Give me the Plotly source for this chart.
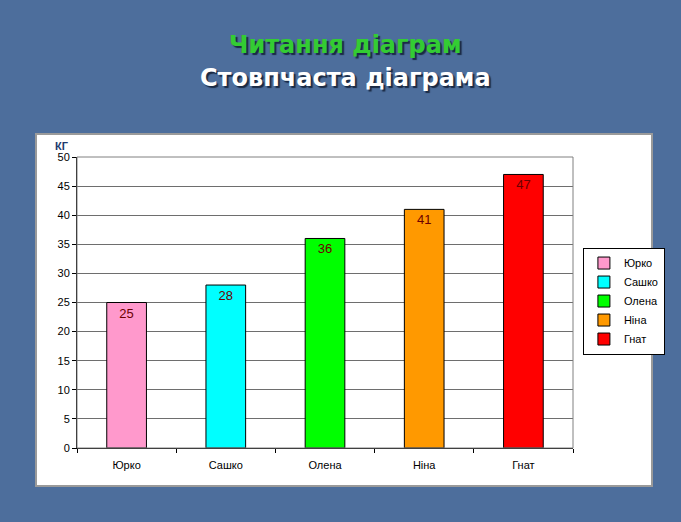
import plotly.graph_objects as go

names = ["Юрко", "Сашко", "Олена", "Ніна", "Гнат"]
values = [25, 28, 36, 41, 47]
colors = ["#ff99cc", "#00ffff", "#00ff00", "#ff9900", "#ff0000"]
y_ticks = [0, 5, 10, 15, 20, 25, 30, 35, 40, 45, 50]

fig = go.Figure()
for n, v, c in zip(names, values, colors):
    fig.add_trace(go.Bar(
        x=[n], y=[v], name=n, width=0.4,
        marker=dict(color=c, line=dict(color="black", width=1)),
        text=[str(v)], textposition="inside", insidetextanchor="end",
        textfont=dict(family="Arial", size=13, color="#6b0000"),
        textangle=0,
    ))

fig.update_layout(
    width=681, height=522,
    paper_bgcolor="#4d6e9c",
    plot_bgcolor="#c0c0c0",
    barmode="overlay",
    margin=dict(l=77, r=108, t=157, b=74),
    font=dict(family="Arial", size=11, color="black"),
    legend=dict(
        x=1.02, xanchor="left", y=0.505, yanchor="middle",
        bgcolor="white", bordercolor="black", borderwidth=1,
        font=dict(family="Arial", size=11, color="black"),
        itemwidth=30, tracegroupgap=0,
    ),
    showlegend=True,
    xaxis=dict(
        type="category", categoryorder="array", categoryarray=names,
        showline=True, linecolor="black", linewidth=1,
        ticks="outside", tickson="boundaries", ticklen=4, tickcolor="black",
        ticklabelstandoff=7,
        showgrid=False, mirror=False,
        tickfont=dict(family="Arial", size=11, color="black"),
    ),
    yaxis=dict(
        range=[0, 50], tickvals=y_ticks,
        showline=True, linecolor="black", linewidth=1,
        ticks="outside", ticklen=4, tickcolor="black",
        showgrid=True, gridcolor="#6e6e6e", gridwidth=1,
        zeroline=False,
        tickfont=dict(family="Arial", size=11, color="black"),
    ),
)

# white chart panel
fig.add_shape(type="rect", xref="paper", yref="paper",
              x0=-41 / 496, x1=(652 - 77) / 496,
              y0=-(486 - 448) / 291, y1=(448 - 134) / 291,
              fillcolor="white", line=dict(color="#9a9a9a", width=2), layer="below")
# gray plot border (right/top)
fig.add_shape(type="rect", xref="paper", yref="paper", x0=0, x1=1, y0=0, y1=1,
              line=dict(color="#808080", width=1), fillcolor="rgba(0,0,0,0)", layer="above")

fig.add_annotation(text="<b>КГ</b>", xref="paper", yref="paper",
                   x=-24 / 496, y=(448 - 146) / 291, showarrow=False,
                   xanchor="left", yanchor="middle",
                   font=dict(family="Arial", size=11, color="#1f3a6e"))

fig.add_annotation(text="<b>Читання діаграм</b>", xref="paper", yref="paper",
                   x=(345 - 77) / 496, y=(448 - 45) / 291, showarrow=False,
                   xanchor="center", yanchor="middle",
                   font=dict(family="DejaVu Sans", size=24, color="#33cc33",
                             shadow="2px 2px 1px #1a2a44"))
fig.add_annotation(text="<b>Стовпчаста діаграма</b>", xref="paper", yref="paper",
                   x=(345 - 77) / 496, y=(448 - 78) / 291, showarrow=False,
                   xanchor="center", yanchor="middle",
                   font=dict(family="DejaVu Sans", size=24, color="white",
                             shadow="2px 2px 1px #1a2a44"))

fig.write_html("out.html")
